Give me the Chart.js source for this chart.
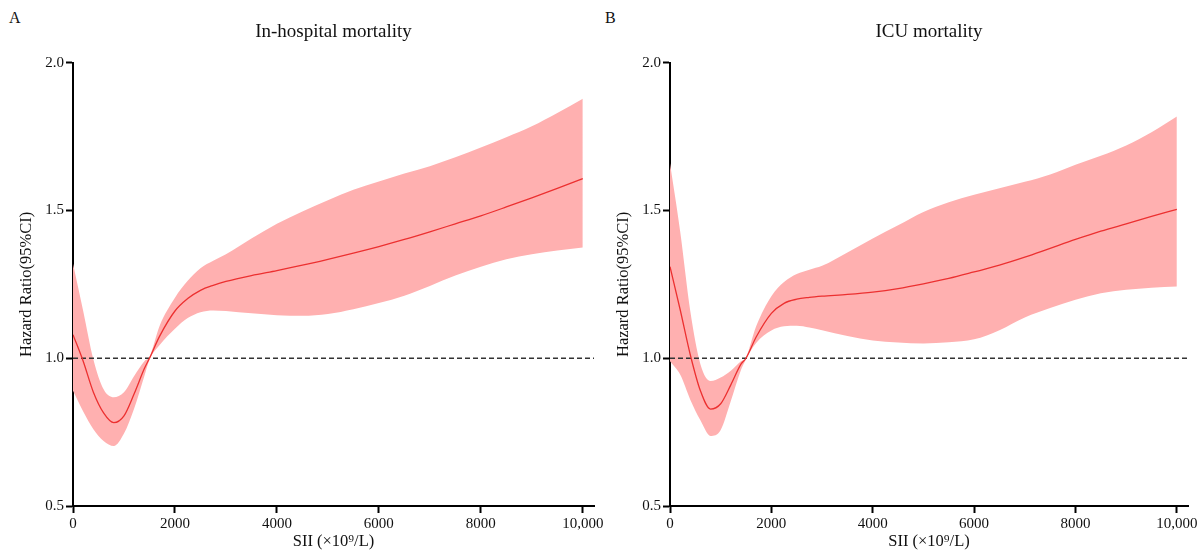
<!DOCTYPE html>
<html>
<head>
<meta charset="utf-8">
<script src="https://cdn.jsdelivr.net/npm/chart.js@4.4.1/dist/chart.umd.min.js"></script>
<style>
  html, body { margin: 0; padding: 0; background: #fff; }
  body { width: 1203px; height: 554px; position: relative; overflow: hidden; font-family: "Liberation Serif", "Times New Roman", serif; }
  .panel { position: absolute; top: 0; height: 554px; }
  #panelA { left: 0; width: 620px; }
  #panelB { left: 597px; width: 606px; }
  .tag { position: absolute; font-size: 16px; line-height: 16px; color: #111; }
</style>
</head>
<body>
<div class="tag" style="left:9px; top:10px">A</div>
<div class="tag" style="left:605px; top:10px">B</div>
<div class="panel" id="panelA"><canvas id="chartA"></canvas></div>
<div class="panel" id="panelB"><canvas id="chartB"></canvas></div>
<script>
const XS = [0, 200, 400, 600, 800, 1000, 1200, 1400, 1500, 1700, 2000, 2250, 2500, 2750, 3000,
  3500, 4000, 4500, 5000, 5500, 6000, 6500, 7000, 7500, 8000, 8500, 9000, 9500, 10000];

// A: in-hospital mortality
const HR_A = [1.08, 0.99, 0.885, 0.815, 0.782, 0.805, 0.88, 0.965, 1.0, 1.075, 1.16, 1.202, 1.23, 1.247, 1.26,
  1.28, 1.297, 1.315, 1.335, 1.356, 1.378, 1.402, 1.428, 1.455, 1.482, 1.512, 1.543, 1.575, 1.608];
const UPPER_A = [1.32, 1.16, 0.996, 0.895, 0.868, 0.885, 0.94, 0.99, 1.005, 1.11, 1.205, 1.262, 1.305, 1.33, 1.352,
  1.405, 1.455, 1.497, 1.535, 1.57, 1.598, 1.625, 1.65, 1.68, 1.713, 1.748, 1.785, 1.83, 1.878];
const LOWER_A = [0.89, 0.82, 0.76, 0.72, 0.703, 0.745, 0.83, 0.94, 0.995, 1.045, 1.10, 1.136, 1.156, 1.162, 1.16,
  1.152, 1.146, 1.144, 1.15, 1.166, 1.187, 1.212, 1.245, 1.28, 1.31, 1.335, 1.352, 1.365, 1.375];

// B: ICU mortality
const HR_B = [1.31, 1.165, 1.012, 0.89, 0.828, 0.846, 0.91, 0.98, 1.0, 1.072, 1.152, 1.186, 1.2, 1.206, 1.21,
  1.216, 1.224, 1.236, 1.252, 1.27, 1.292, 1.315, 1.342, 1.372, 1.402, 1.43, 1.455, 1.48, 1.504];
const UPPER_B = [1.66, 1.43, 1.16, 0.98, 0.923, 0.935, 0.958, 0.99, 1.003, 1.108, 1.21, 1.258, 1.285, 1.30, 1.313,
  1.358, 1.405, 1.45, 1.495, 1.528, 1.553, 1.575, 1.597, 1.622, 1.655, 1.685, 1.72, 1.765, 1.818];
const LOWER_B = [0.99, 0.945, 0.86, 0.79, 0.737, 0.757, 0.855, 0.96, 0.997, 1.052, 1.094, 1.108, 1.11, 1.104, 1.095,
  1.075, 1.06, 1.053, 1.05, 1.054, 1.064, 1.095, 1.138, 1.17, 1.198, 1.22, 1.232, 1.239, 1.243];

const XTICKS = [0, 2000, 4000, 6000, 8000, 10000];
const XTICK_LABELS = ['0', '2000', '4000', '6000', '8000', '10,000'];
const YTICKS = [0.5, 1.0, 1.5, 2.0];
const X_MAX = 10220;
const REF_HR = 1.0;

const SERIF = '"Liberation Serif", "Times New Roman", serif';
const INK = '#111';
const BAND = 'rgb(255, 176, 176)';
const LINE = 'rgb(236, 48, 48)';

function pts(ys) {
  return XS.map((x, i) => ({ x, y: ys[i] }));
}

function makeChart(id, title, hr, upper, lower, padRight) {
  const smooth = { pointRadius: 0, cubicInterpolationMode: 'monotone' };
  return new Chart(document.getElementById(id), {
    type: 'line',
    data: {
      datasets: [
        { ...smooth, data: pts(upper), fill: '+1', backgroundColor: BAND, borderWidth: 0, borderColor: BAND, order: 3 },
        { ...smooth, data: pts(lower), fill: false, borderWidth: 0, borderColor: BAND, order: 3 },
        { data: [0, X_MAX].map((x) => ({ x, y: REF_HR })), pointRadius: 0, borderColor: '#333',
          borderDash: [5, 3], borderWidth: 1.4, fill: false, order: 2 },
        { ...smooth, data: pts(hr), borderColor: LINE, borderWidth: 1.3, fill: false, order: 1 },
      ],
    },
    options: {
      responsive: true,
      maintainAspectRatio: false,
      animation: false,
      layout: { padding: { left: 0, right: padRight, top: 0, bottom: 0 } },
      plugins: {
        legend: { display: false },
        tooltip: { enabled: false },
        title: {
          display: true, text: title, fullSize: false, color: INK,
          font: { family: SERIF, size: 19, weight: 'normal' },
          padding: { top: 21, bottom: 19 },
        },
      },
      scales: {
        x: {
          type: 'linear', min: 0, max: X_MAX,
          afterBuildTicks: (s) => { s.ticks = XTICKS.map((v) => ({ value: v })); },
          afterFit: (s) => { s.height = 48; s.paddingLeft = 0; s.paddingRight = 0; },
          grid: { drawOnChartArea: false, tickLength: 7, tickWidth: 2, tickColor: '#000' },
          border: { color: '#000', width: 2 },
          ticks: {
            padding: 2, color: INK, autoSkip: false, maxRotation: 0,
            font: { family: SERIF, size: 15 },
            callback: (v) => XTICK_LABELS[XTICKS.indexOf(v)] ?? '',
          },
          title: {
            display: true, text: 'SII (×10⁹/L)', color: INK,
            font: { family: SERIF, size: 16.5 }, padding: { top: 0, bottom: 2 },
          },
        },
        y: {
          min: 0.5, max: 2.0,
          afterBuildTicks: (s) => { s.ticks = YTICKS.map((v) => ({ value: v })); },
          afterFit: (s) => { s.width = 73; },
          grid: { drawOnChartArea: false, tickLength: 7, tickWidth: 2, tickColor: '#000' },
          border: { color: '#000', width: 2 },
          ticks: {
            padding: 2, color: INK,
            font: { family: SERIF, size: 15 },
            callback: (v) => Number(v).toFixed(1),
          },
          title: {
            display: true, text: 'Hazard Ratio(95%CI)', color: INK,
            font: { family: SERIF, size: 16.5 }, padding: { top: 17, bottom: 0 },
          },
        },
      },
    },
  });
}

makeChart('chartA', 'In-hospital mortality', HR_A, UPPER_A, LOWER_A, 26);
makeChart('chartB', 'ICU mortality', HR_B, UPPER_B, LOWER_B, 15);
</script>
</body>
</html>
